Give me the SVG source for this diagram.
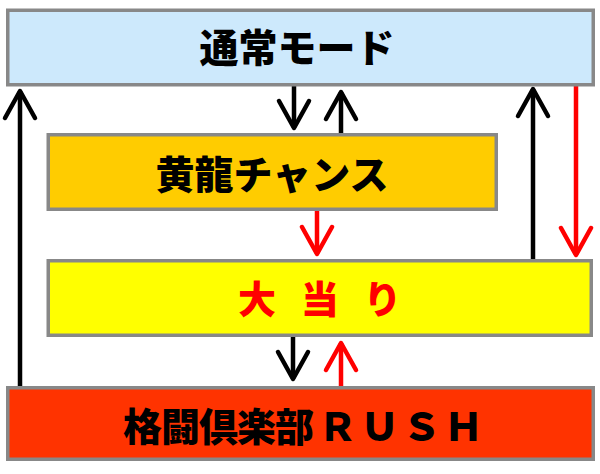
<svg xmlns="http://www.w3.org/2000/svg" width="600" height="474" viewBox="0 0 600 474">
<style>
.box{stroke:#888888;stroke-width:3.5}
.lbl{font-family:"Noto Sans CJK JP","Noto Sans CJK SC",sans-serif;font-weight:900;font-size:39px;fill:#000}
.blk{stroke:#000;stroke-width:4.5;fill:none}
.red{stroke:#ff0000;stroke-width:4.5;fill:none}
</style>
<defs>
<marker id="ahk" markerUnits="userSpaceOnUse" markerWidth="40" markerHeight="40" viewBox="-34 -20 40 40" refX="0" refY="0" orient="auto" overflow="visible">
<path d="M-27,-15 L0,0 L-27,15" fill="none" stroke="#000" stroke-width="4.5" stroke-linejoin="round" stroke-linecap="round"/>
</marker>
<marker id="ahr" markerUnits="userSpaceOnUse" markerWidth="40" markerHeight="40" viewBox="-34 -20 40 40" refX="0" refY="0" orient="auto" overflow="visible">
<path d="M-27,-15 L0,0 L-27,15" fill="none" stroke="#ff0000" stroke-width="4.5" stroke-linejoin="round" stroke-linecap="round"/>
</marker>
</defs>
<rect width="600" height="474" fill="#ffffff"/>
<g id="connectors">
<line class="blk" x1="20" y1="386" x2="20" y2="91" marker-end="url(#ahk)"/>
<line class="blk" x1="294" y1="86" x2="294" y2="128" marker-end="url(#ahk)"/>
<line class="blk" x1="341" y1="133" x2="341" y2="92" marker-end="url(#ahk)"/>
<line class="blk" x1="533" y1="259" x2="533" y2="89" marker-end="url(#ahk)"/>
<line class="red" x1="576" y1="86" x2="576" y2="255" marker-end="url(#ahr)"/>
<line class="red" x1="317" y1="211" x2="317" y2="254" marker-end="url(#ahr)"/>
<line class="blk" x1="293" y1="337" x2="293" y2="379" marker-end="url(#ahk)"/>
<line class="red" x1="341" y1="386" x2="341" y2="343" marker-end="url(#ahr)"/>
</g>
<g id="normal">
<rect class="box" x="7.75" y="10.25" width="585.5" height="74.5" fill="#cde9fc"/>
<text class="lbl" x="297" y="62" text-anchor="middle">通常モード</text>
</g>
<g id="chance">
<rect class="box" x="48.25" y="134.75" width="448" height="74.5" fill="#ffcc00"/>
<text class="lbl" x="272" y="189" text-anchor="middle">黄龍チャンス</text>
</g>
<g id="jackpot">
<rect class="box" x="48.25" y="260.75" width="543" height="74.5" fill="#ffff00"/>
<text class="lbl" x="238" y="313" style="fill:#ff0000;font-size:38px" letter-spacing="8">大 当 り</text>
</g>
<g id="rush">
<rect class="box" x="7.75" y="387.75" width="585.5" height="71.5" fill="#ff3300"/>
<text class="lbl" x="123" y="441"><tspan letter-spacing="-1">格闘倶楽部</tspan><tspan x="318" letter-spacing="3">ＲＵＳＨ</tspan></text>
</g>
</svg>
